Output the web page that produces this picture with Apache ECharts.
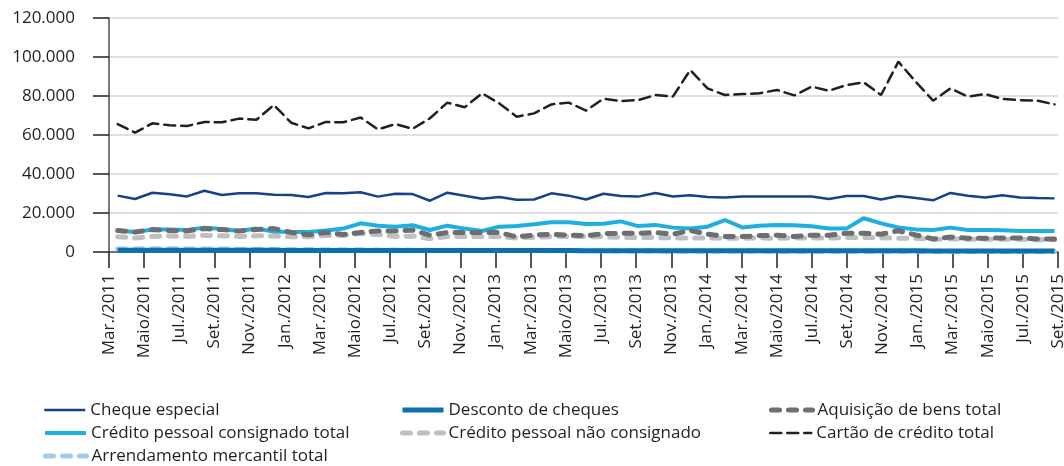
<!DOCTYPE html>
<html>
<head>
<meta charset="utf-8">
<script src="https://cdn.jsdelivr.net/npm/echarts@6/dist/echarts.min.js"></script>
<style>
  html, body { margin: 0; padding: 0; background: #fff; }
  #chart { width: 1064px; height: 466px; }
</style>
</head>
<body>
<div id="chart"></div>
<script>
// meses de Mar/2011 a Set/2015 (55 pontos)
var monthNames = ['Jan.', 'Fev.', 'Mar.', 'Abr.', 'Maio', 'Jun.', 'Jul.', 'Ago.', 'Set.', 'Out.', 'Nov.', 'Dez.'];
var months = [];
for (var y = 2011; y <= 2015; y++) {
    for (var m = 0; m < 12; m++) {
        if (y === 2011 && m < 2) continue;
        if (y === 2015 && m > 8) continue;
        months.push(monthNames[m] + '/' + y);
    }
}

// rótulos do eixo x (a cada dois meses)
var tickLabels = ['Mar./2011', 'Maio/2011', 'Jul./2011', 'Set./2011', 'Nov./2011', 'Jan./2012', 'Mar./2012', 'Maio/2012', 'Jul./2012', 'Set./2012',
    'Nov./2012', 'Jan./2013', 'Mar./2013', 'Maio/2013', 'Jul./2013', 'Set./2013', 'Nov./2013', 'Jan./2014', 'Mar./2014', 'Maio/2014',
    'Jul./2014', 'Set./2014', 'Nov./2014', 'Jan./2015', 'Mar./2015', 'Maio/2015', 'Jul./2015', 'Set./2015'];

var yTicks = [0, 20000, 40000, 60000, 80000, 100000, 120000];

var chequeEspecial = [28900, 27200, 30400, 29600, 28500, 31400, 29200, 30100, 30100, 29400,
    29200, 28200, 30300, 30100, 30600, 28400, 29900, 29700, 26300, 30400,
    28900, 27300, 28200, 26800, 26900, 30100, 28900, 26900, 29900, 28700,
    28400, 30300, 28500, 29100, 28200, 27900, 28500, 28400, 28500, 28400,
    28500, 27200, 28700, 28700, 26900, 28700, 27700, 26500, 30300, 28900,
    28000, 29100, 28000, 27700, 27500];
var descontoCheques = [900, 880, 900, 920, 900, 880, 870, 860, 850, 840,
    830, 820, 820, 810, 800, 800, 790, 780, 770, 770,
    760, 750, 740, 730, 720, 720, 710, 700, 700, 690,
    690, 680, 680, 670, 660, 650, 650, 640, 640, 630,
    620, 620, 610, 600, 600, 590, 580, 570, 570, 560,
    550, 550, 540, 540, 530];
var aquisicaoBens = [11000, 10300, 11500, 11000, 10800, 12000, 11500, 10800, 11500, 12000,
    10000, 8800, 10000, 9000, 10000, 10800, 10800, 11300, 8600, 10000,
    10000, 10000, 10000, 7700, 8700, 9100, 8600, 8400, 9400, 9600,
    9600, 10000, 9100, 11000, 9200, 8000, 7900, 8400, 8600, 7900,
    8600, 8600, 9600, 9600, 9100, 10900, 8700, 6700, 7700, 7000,
    7000, 7200, 7200, 6700, 6700];
var consignado = [11000, 10200, 11500, 11500, 11300, 12500, 11800, 10800, 12000, 10500,
    10200, 10200, 11000, 12000, 14700, 13500, 13000, 13700, 11300, 13500,
    12000, 10800, 13000, 13300, 14200, 15200, 15200, 14400, 14500, 15700,
    13300, 13900, 12500, 12000, 13000, 16400, 12600, 13500, 13900, 13700,
    13200, 12000, 12000, 17300, 14700, 12600, 11600, 11300, 12500, 11300,
    11300, 11100, 10800, 10800, 10800];
var naoConsignado = [7800, 7200, 8000, 8200, 8000, 8500, 8300, 8000, 8300, 8200,
    7800, 7800, 8500, 8500, 9500, 9000, 8000, 8200, 6800, 8000,
    8000, 8000, 7800, 7200, 7600, 7900, 8000, 7900, 7800, 7500,
    7500, 7400, 7200, 7200, 7200, 7000, 7000, 7200, 7000, 7200,
    7200, 7200, 7500, 7500, 7300, 7000, 7000, 6500, 6700, 6500,
    6500, 6500, 6500, 6300, 6300];
var cartaoCredito = [65600, 61200, 66000, 65000, 64600, 66700, 66500, 68400, 67800, 75400,
    66300, 63400, 66700, 66500, 69000, 62900, 65600, 63200, 68600, 76600,
    74200, 81400, 76200, 69400, 71100, 75700, 76600, 72500, 78600, 77400,
    77900, 80500, 79700, 93300, 83900, 80500, 81000, 81400, 83100, 80300,
    84800, 82700, 85600, 87000, 80500, 97600, 87300, 77600, 83900, 79700,
    81000, 78500, 77900, 77600, 75700];
var arrendamento = [1500, 1550, 1700, 1650, 1600, 1550, 1500, 1450, 1400, 1350,
    1300, 1250, 1200, 1150, 1100, 1050, 1000, 960, 920, 880,
    850, 820, 790, 760, 730, 700, 680, 660, 640, 620,
    600, 580, 560, 540, 520, 500, 480, 460, 440, 420,
    400, 390, 380, 370, 360, 350, 340, 330, 320, 310,
    300, 290, 280, 270, 260];

var fontFamily = '"Open Sans", "Noto Sans", sans-serif';
var textColor = '#231f20';

function pts(arr) {
    return arr.map(function (v, i) { return [i, v]; });
}

function lineSeries(name, data, color, width, dash) {
    return {
        name: name,
        type: 'line',
        xAxisIndex: 0,
        symbol: 'none',
        data: pts(data),
        lineStyle: {
            color: color,
            width: width,
            type: dash || 'solid',
            cap: dash ? 'round' : 'butt'
        },
        itemStyle: { color: color }
    };
}

// uma legenda por item, posicionada em grade de 3 colunas
function legendItem(name, left, top, width) {
    return {
        left: left,
        top: top,
        padding: 0,
        itemWidth: 41,
        itemHeight: 10,
        data: [name],
        itemStyle: { opacity: 0 },
        lineStyle: { width: width },
        textStyle: { color: textColor, fontSize: 17, fontFamily: fontFamily, lineHeight: 20 }
    };
}

var chart = echarts.init(document.getElementById('chart'));

var option = {
    backgroundColor: '#fff',
    animation: false,
    grid: { left: 109, right: 6, top: 18, bottom: 214, outerBoundsMode: 'none' },
    legend: [
        legendItem('Cheque especial', 43, 400, 2.5),
        legendItem('Desconto de cheques', 400, 400, 5),
        legendItem('Aquisição de bens total', 769, 400, 5),
        legendItem('Crédito pessoal consignado total', 43, 423, 4),
        legendItem('Crédito pessoal não consignado', 400, 423, 5),
        legendItem('Cartão de crédito total', 769, 423, 2.5),
        legendItem('Arrendamento mercantil total', 43, 446, 5)
    ],
    xAxis: [{
        type: 'value',
        min: -0.5,
        max: 54.2,
        show: false
    }, {
        type: 'category',
        position: 'bottom',
        data: tickLabels,
        boundaryGap: false,
        axisLine: { show: true, onZero: false, lineStyle: { color: '#4d4d4f', width: 1.5 } },
        axisTick: { show: true, length: 16, lineStyle: { color: textColor, width: 1.5 } },
        axisLabel: {
            interval: 0,
            rotate: 90,
            margin: 22,
            color: textColor,
            fontSize: 17,
            fontFamily: fontFamily
        },
        splitLine: { show: false }
    }],
    yAxis: {
        type: 'value',
        min: yTicks[0],
        max: yTicks[yTicks.length - 1],
        interval: yTicks[1] - yTicks[0],
        axisLine: { show: true, onZero: false, lineStyle: { color: '#4d4d4f', width: 1.5 } },
        axisTick: { show: true, length: 16, lineStyle: { color: textColor, width: 1.5 } },
        axisLabel: {
            margin: 34,
            color: textColor,
            fontSize: 17,
            fontFamily: fontFamily,
            formatter: function (v) {
                return String(v).replace(/\B(?=(\d{3})+(?!\d))/g, '.');
            }
        },
        splitLine: { show: true, lineStyle: { color: '#d6d6d6', width: 1.5 } }
    },
    series: [
        lineSeries('Arrendamento mercantil total', arrendamento, '#a5cbea', 5, [8, 9]),
        lineSeries('Desconto de cheques', descontoCheques, '#0a70b0', 5),
        lineSeries('Crédito pessoal não consignado', naoConsignado, '#bdbfc1', 5, [8, 9]),
        lineSeries('Crédito pessoal consignado total', consignado, '#1eafe2', 4),
        lineSeries('Aquisição de bens total', aquisicaoBens, '#6d6e70', 5, [8, 9]),
        lineSeries('Cheque especial', chequeEspecial, '#17408a', 2.5),
        lineSeries('Cartão de crédito total', cartaoCredito, '#231f20', 2.5, [11, 6])
    ]
};

chart.setOption(option);
</script>
</body>
</html>
